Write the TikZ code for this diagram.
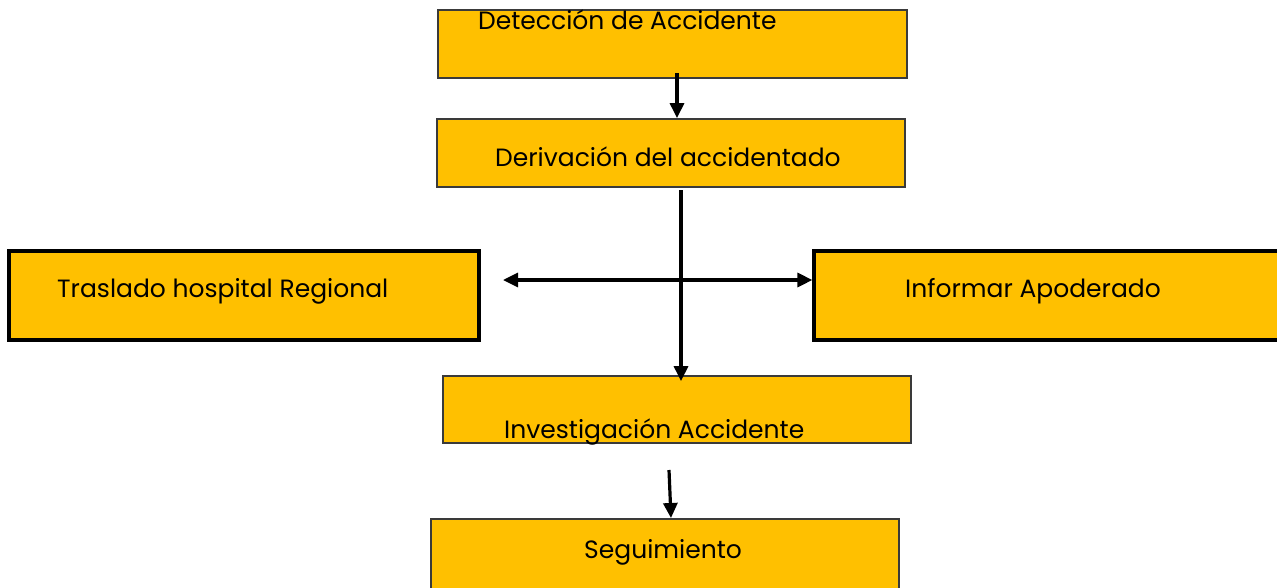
\documentclass[tikz,border=0pt]{standalone}
\usepackage{fontspec}
\setmainfont{Poppins}
\usetikzlibrary{arrows.meta}
\definecolor{boxfill}{HTML}{FFC000}
\definecolor{thinedge}{HTML}{3A3A3A}
\begin{document}
\begin{tikzpicture}[x=1pt,y=-1pt,
  thinbox/.style={draw=thinedge,line width=1.8pt,fill=boxfill,rectangle,inner sep=0pt},
  thickbox/.style={draw=black,line width=3.2pt,fill=boxfill,rectangle,inner sep=0pt},
  lbl/.style={font=\fontsize{25}{28}\selectfont,inner sep=0pt,anchor=base west},
  arr/.style={line width=3.2pt,-{Triangle[length=15pt,width=14pt]}}]
\useasboundingbox (0,0) rectangle (1277,587);
\clip (0,0) rectangle (1277,587);
\fill[white] (0,0) rectangle (1277,587);
% boxes
\node[thinbox,minimum width=469pt,minimum height=68pt] (det) at (672.5,44) {};
\node[thinbox,minimum width=468pt,minimum height=68pt] (der) at (671,153) {};
\node[thickbox,minimum width=470pt,minimum height=89pt] (tra) at (244,295.5) {};
\node[thickbox,minimum width=470pt,minimum height=89pt] (inf) at (1049,295.5) {};
\node[thinbox,minimum width=468pt,minimum height=67pt] (inv) at (677,409.5) {};
\node[thinbox,minimum width=468pt,minimum height=70pt] (seg) at (665,554) {};
% texts
\node[lbl] (tdet) at (478,29) {Detección de Accidente};
\node[lbl] (tder) at (495,166) {Derivación del accidentado};
\node[lbl] (ttra) at (57,297) {Traslado hospital Regional};
\node[lbl] (tinf) at (905,297) {Informar Apoderado};
\node[lbl] (tinv) at (504,438) {Investigación Accidente};
\node[lbl] (tseg) at (584,558) {Seguimiento};
% connectors
\coordinate (a1) at (677,73);
\draw[arr] (a1) -- (der.north -| a1);
\coordinate (v1) at (681,190);
\coordinate (c) at (681,280);
\coordinate (hl) at (503,280);
\draw[arr,shorten >=-6pt] (v1) -- (inv.north -| v1);
\draw[arr] (c) -- (hl);
\draw[arr] (c) -- (inf.west |- c);
\coordinate (a3) at (669,470);
\draw[arr] (a3) -- (671,518);
\end{tikzpicture}
\end{document}
